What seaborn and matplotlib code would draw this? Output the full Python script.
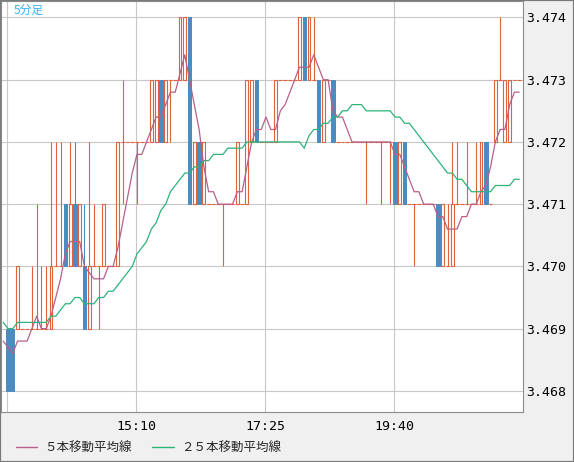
import numpy as np
import matplotlib
matplotlib.use("Agg")
import matplotlib.pyplot as plt
import seaborn as sns

# 5分足  価格は 3.468 からの 0.001 単位
base_price = 3.468
pip = 0.001

open_pips = [1, 1, 1, 1, 1, 1, 1, 1, 1, 1,
             2, 2, 3, 2, 3, 2, 2, 1, 2, 2,
             2, 2, 2, 2, 4, 4, 4, 4, 4, 4,
             4, 4, 5, 4, 5, 5, 5, 5, 6, 3,
             4, 3, 3, 3, 3, 3, 3, 3, 3, 3,
             3, 4, 5, 4, 4, 4, 4, 5, 5, 5,
             5, 5, 6, 5, 5, 5, 4, 5, 5, 4,
             4, 4, 4, 4, 4, 4, 4, 4, 4, 4,
             4, 4, 3, 4, 3, 3, 3, 3, 3, 3,
             3, 2, 2, 2, 3, 3, 3, 3, 3, 3,
             4, 3, 4, 5, 4, 4, 5, 5]
high_pips = [1, 1, 2, 1, 1, 2, 3, 2, 2, 4,
             4, 4, 3, 4, 4, 3, 3, 4, 3, 2,
             3, 2, 2, 4, 5, 4, 4, 4, 4, 4,
             5, 5, 5, 5, 5, 5, 6, 6, 6, 4,
             4, 4, 3, 3, 3, 3, 3, 3, 4, 3,
             5, 5, 5, 4, 4, 4, 5, 5, 5, 5,
             5, 6, 6, 6, 6, 5, 5, 5, 5, 4,
             4, 4, 4, 4, 4, 4, 4, 4, 4, 4,
             4, 4, 4, 4, 3, 3, 3, 3, 3, 3,
             3, 3, 3, 4, 4, 3, 4, 3, 4, 4,
             4, 3, 5, 6, 5, 5, 5, 5]
low_pips = [0, 0, 1, 1, 1, 1, 1, 1, 1, 1,
            2, 2, 2, 2, 2, 2, 1, 1, 2, 1,
            2, 2, 2, 2, 3, 4, 4, 3, 4, 4,
            4, 4, 4, 4, 4, 5, 5, 5, 3, 3,
            3, 3, 3, 3, 3, 2, 3, 3, 3, 3,
            3, 4, 4, 4, 4, 4, 4, 5, 5, 5,
            5, 5, 5, 5, 5, 4, 4, 5, 4, 4,
            4, 4, 4, 4, 4, 3, 4, 4, 3, 4,
            3, 3, 3, 3, 3, 2, 3, 3, 3, 3,
            2, 2, 2, 2, 3, 3, 3, 3, 3, 3,
            3, 3, 4, 5, 4, 4, 5, 5]
close_pips = [0, 0, 2, 1, 1, 1, 1, 1, 1, 2,
              2, 2, 2, 3, 2, 3, 1, 2, 2, 2,
              3, 2, 2, 4, 4, 4, 4, 4, 4, 4,
              5, 5, 4, 5, 5, 5, 6, 6, 3, 4,
              3, 4, 3, 3, 3, 3, 3, 3, 4, 3,
              5, 5, 4, 4, 4, 4, 5, 5, 5, 5,
              5, 6, 5, 6, 5, 4, 5, 5, 4, 4,
              4, 4, 4, 4, 4, 4, 4, 4, 4, 4,
              4, 3, 4, 3, 3, 3, 3, 3, 3, 3,
              2, 3, 2, 3, 3, 3, 3, 3, 3, 4,
              3, 3, 5, 5, 5, 5, 5, 5]

# 移動平均線 (足番号 -1 から 107)
ma5 = [3.4688, 3.4687, 3.4686, 3.4688, 3.4688, 3.4688, 3.4690, 3.4692, 3.4690, 3.4690, 3.4692,
       3.4695, 3.4698, 3.4702, 3.4704, 3.4704, 3.4704, 3.4700, 3.4699, 3.4698, 3.4698,
       3.4698, 3.4700, 3.4700, 3.4703, 3.4707, 3.4711, 3.4715, 3.4718, 3.4718, 3.4720,
       3.4722, 3.4724, 3.4724, 3.4726, 3.4728, 3.4728, 3.4731, 3.4734, 3.4730, 3.4726,
       3.4722, 3.4716, 3.4712, 3.4712, 3.4710, 3.4710, 3.4710, 3.4710, 3.4712, 3.4712,
       3.4716, 3.4720, 3.4722, 3.4722, 3.4724, 3.4722, 3.4722, 3.4725, 3.4726, 3.4728,
       3.4730, 3.4732, 3.4732, 3.4732, 3.4734, 3.4732, 3.4730, 3.4730, 3.4725, 3.4724,
       3.4724, 3.4722, 3.4720, 3.4720, 3.4720, 3.4720, 3.4720, 3.4720, 3.4720, 3.4720,
       3.4720, 3.4718, 3.4718, 3.4716, 3.4714, 3.4712, 3.4712, 3.4710, 3.4710, 3.4710,
       3.4708, 3.4708, 3.4706, 3.4706, 3.4706, 3.4708, 3.4708, 3.4710, 3.4710, 3.4712,
       3.4713, 3.4716, 3.4720, 3.4722, 3.4722, 3.4726, 3.4728, 3.4728]
ma25 = [3.4691, 3.4690, 3.4690, 3.4691, 3.4691, 3.4691, 3.4691, 3.4691, 3.4691, 3.4691, 3.4692,
        3.4692, 3.4693, 3.4694, 3.4694, 3.4695, 3.4695, 3.4694, 3.4694, 3.4694, 3.4695,
        3.4695, 3.4696, 3.4696, 3.4697, 3.4698, 3.4699, 3.4700, 3.4702, 3.4703, 3.4704,
        3.4706, 3.4707, 3.4709, 3.4710, 3.4712, 3.4713, 3.4714, 3.4715, 3.4715, 3.4716,
        3.4716, 3.4717, 3.4717, 3.4718, 3.4718, 3.4718, 3.4719, 3.4719, 3.4719, 3.4719,
        3.4720, 3.4720, 3.4720, 3.4720, 3.4720, 3.4720, 3.4720, 3.4720, 3.4720, 3.4720,
        3.4720, 3.4720, 3.4719, 3.4721, 3.4722, 3.4722, 3.4723, 3.4723, 3.4724, 3.4724,
        3.4725, 3.4725, 3.4726, 3.4726, 3.4726, 3.4725, 3.4725, 3.4725, 3.4725, 3.4725,
        3.4725, 3.4724, 3.4724, 3.4723, 3.4723, 3.4722, 3.4721, 3.4720, 3.4719, 3.4718,
        3.4717, 3.4716, 3.4715, 3.4715, 3.4714, 3.4714, 3.4713, 3.4712, 3.4712, 3.4712,
        3.4712, 3.4712, 3.4713, 3.4713, 3.4713, 3.4713, 3.4714, 3.4714]
ma_start = -1

grid_bars = [0, 27, 54, 81]
time_labels = ["", "15:10", "17:25", "19:40"]
price_levels = [3.468, 3.469, 3.470, 3.471, 3.472, 3.473, 3.474]

red = "#e0623c"
blue = "#4a8bc0"
col5 = "#b85f8a"
col25 = "#2db37a"

sns.set_style("white")
plt.rcParams['font.family'] = ['DejaVu Sans Mono', 'Noto Sans CJK JP']

o = base_price + np.array(open_pips) * pip
h = base_price + np.array(high_pips) * pip
l = base_price + np.array(low_pips) * pip
c = base_price + np.array(close_pips) * pip
x = np.arange(len(o))

fig = plt.figure(figsize=(5.74, 4.62), dpi=100, facecolor="#f0f0f0")
ax = fig.add_axes([1 / 574, 50 / 462, 522 / 574, 411 / 462])
ax.set_facecolor("white")

up = c > o
dn = c < o
flat = np.isclose(c, o)
top = np.maximum(o, c)
bot = np.minimum(o, c)
wick_col = np.where(dn, blue, red)

# ヒゲ (実体の外側だけ)
hi = h > top + 1e-9
ax.vlines(x[hi], top[hi], h[hi], colors=wick_col[hi], lw=0.8, zorder=2)
lo = l < bot - 1e-9
ax.vlines(x[lo], l[lo], bot[lo], colors=wick_col[lo], lw=0.8, zorder=2)

# 陽線 (白抜き) と 陰線 (塗り)
ax.bar(x[up], (c - o)[up], bottom=o[up], width=0.62, facecolor="none",
       edgecolor=red, linewidth=0.8, zorder=2)
ax.bar(x[dn], (o - c)[dn], bottom=c[dn], width=0.72, color=blue,
       edgecolor=blue, linewidth=0.7, zorder=2)
ax.hlines(o[flat], x[flat] - 0.4, x[flat] + 0.4, colors=red, lw=0.8, zorder=2)

ma_x = np.arange(ma_start, ma_start + len(ma5))
sns.lineplot(x=ma_x, y=ma5, ax=ax, color=col5, lw=0.9, label="５本移動平均線", zorder=3)
sns.lineplot(x=ma_x, y=ma25, ax=ax, color=col25, lw=0.9, label="２５本移動平均線", zorder=3)

ax.set_xlim(-1.465, 107.79)
ax.set_ylim(3.46766, 3.474265)

ax.set_xticks([b - 0.2 for b in grid_bars])
ax.set_xticklabels(time_labels)
ax.set_yticks(price_levels)
ax.set_yticklabels([f"{p:.3f}" for p in price_levels])
ax.yaxis.tick_right()
ax.tick_params(axis="both", length=0, labelsize=9.5, colors="black")
ax.tick_params(axis="x", pad=6)
ax.tick_params(axis="y", pad=2)
ax.grid(True, color="#c8c8c8", lw=0.8)
ax.set_axisbelow(True)
ax.set_xlabel("")
ax.set_ylabel("")
for sp in ax.spines.values():
    sp.set_visible(True)
    sp.set_color("#8c8c8c")
    sp.set_linewidth(0.8)

handles, labels = ax.get_legend_handles_labels()
ax.get_legend().remove()
leg = fig.legend(handles, labels, loc="center left", bbox_to_anchor=(16 / 574, 1 - 448 / 462),
                 ncol=2, frameon=False, prop={"family": ["Noto Sans CJK JP"], "size": 9},
                 handlelength=1.7, handletextpad=0.6, columnspacing=1.6,
                 borderpad=0, borderaxespad=0)
for line in leg.get_lines():
    line.set_linewidth(1.0)

fig.text(14 / 574, 1 - 10 / 462, "5分足", color="#3ab2f0", fontsize=8.5,
         family=["Noto Sans CJK JP"], va="center", ha="left")

fig.patches.append(plt.Rectangle((0, 0), 1, 1, transform=fig.transFigure, fill=False,
                                 edgecolor="#7a7a7a", lw=1.6))

fig.savefig("out.png", dpi=100, facecolor=fig.get_facecolor())
